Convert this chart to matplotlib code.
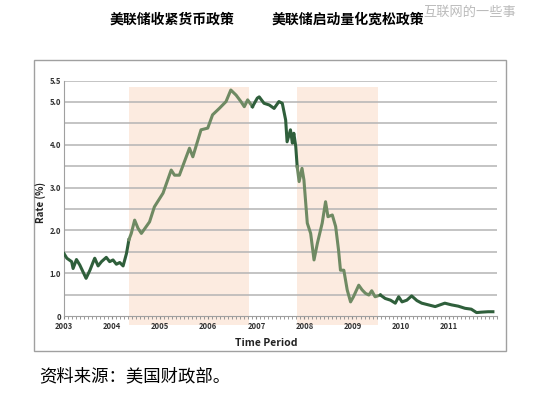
import numpy as np
import matplotlib.pyplot as plt
from matplotlib.patches import Rectangle
from matplotlib.ticker import MultipleLocator

plt.rcParams['font.family'] = ['Noto Sans CJK SC', 'DejaVu Sans']

# ---------------- data ----------------
years = [2003.00, 2003.06, 2003.16, 2003.19, 2003.26, 2003.33, 2003.46, 2003.54,
         2003.61, 2003.64, 2003.71, 2003.78, 2003.88, 2003.95, 2004.02, 2004.09,
         2004.16, 2004.23, 2004.30, 2004.35, 2004.40, 2004.47, 2004.54, 2004.61,
         2004.78, 2004.88, 2005.06, 2005.23, 2005.30, 2005.40, 2005.61, 2005.68,
         2005.85, 2005.99, 2006.09, 2006.23, 2006.37, 2006.47, 2006.58, 2006.68,
         2006.75, 2006.82, 2006.92, 2007.02, 2007.06, 2007.16, 2007.27, 2007.37,
         2007.47, 2007.54, 2007.61, 2007.64, 2007.71, 2007.75, 2007.78, 2007.82,
         2007.85, 2007.89, 2007.95, 2007.99, 2008.06, 2008.13, 2008.20, 2008.27,
         2008.37, 2008.44, 2008.49, 2008.58, 2008.65, 2008.71, 2008.75, 2008.82,
         2008.89, 2008.96, 2009.02, 2009.13, 2009.20, 2009.27, 2009.34, 2009.40,
         2009.47, 2009.58, 2009.68, 2009.79, 2009.89, 2009.96, 2010.03, 2010.13,
         2010.23, 2010.34, 2010.44, 2010.58, 2010.72, 2010.82, 2010.92, 2011.06,
         2011.20, 2011.34, 2011.47, 2011.58, 2011.68, 2011.82, 2011.92]
rates = [1.46, 1.35, 1.27, 1.11, 1.32, 1.19, 0.88, 1.07,
         1.27, 1.35, 1.17, 1.27, 1.37, 1.27, 1.31, 1.21,
         1.25, 1.17, 1.46, 1.78, 1.93, 2.24, 2.05, 1.93,
         2.20, 2.55, 2.87, 3.41, 3.29, 3.29, 3.92, 3.72,
         4.35, 4.39, 4.70, 4.85, 5.01, 5.28, 5.16, 5.01,
         4.89, 5.05, 4.89, 5.09, 5.12, 4.97, 4.93, 4.85,
         5.01, 4.97, 4.58, 4.07, 4.35, 4.04, 4.27, 3.96,
         3.49, 3.14, 3.45, 3.18, 2.17, 1.93, 1.31, 1.70,
         2.17, 2.67, 2.32, 2.36, 2.09, 1.54, 1.07, 1.07,
         0.61, 0.33, 0.45, 0.72, 0.61, 0.53, 0.49, 0.59,
         0.45, 0.49, 0.41, 0.37, 0.30, 0.45, 0.33, 0.37,
         0.47, 0.36, 0.30, 0.26, 0.22, 0.26, 0.30, 0.26,
         0.23, 0.18, 0.16, 0.08, 0.09, 0.10, 0.10]

spans = [(2004.35, 2006.84), (2007.84, 2009.53)]
span_labels = ['美联储收紧货币政策', '美联储启动量化宽松政策']

xtick_years = list(range(2003, 2012))
ytick_vals = [0, 1.0, 2.0, 3.0, 4.0, 5.0, 5.5]
ytick_text = ['0', '1.0', '2.0', '3.0', '4.0', '5.0', '5.5']

dark = '#2f5f3b'
light = '#6f8a63'
shade = '#fcebe0'

fig = plt.figure(figsize=(5.33, 3.97), dpi=100)

# outer frame
fig.patches.append(Rectangle((0.064, 0.116), 0.885, 0.733, transform=fig.transFigure,
                             fill=False, edgecolor='#a0a0a0', lw=1.0))

ax = fig.add_axes([0.120, 0.204, 0.812, 0.593])
ax.set_xlim(2003, 2012)
ax.set_ylim(0, 5.5)

for a, b in spans:
    ax.fill_between([a, b], -0.22, 5.35, color=shade, lw=0, zorder=0, clip_on=False)

for yv in np.arange(0.5, 5.51, 0.5):
    ax.axhline(yv, color='#b4b4b4', lw=1.1, zorder=1)

# line coloured by period
x = np.array(years)
y = np.array(rates)
inside = np.zeros(len(x), dtype=bool)
for a, b in spans:
    inside |= (x >= a) & (x <= b)
start = 0
for i in range(1, len(x) + 1):
    if i == len(x) or inside[i] != inside[start]:
        end = min(i + 1, len(x))
        ax.plot(x[start:end], y[start:end], color=light if inside[start] else dark,
                lw=2.2, zorder=3, solid_joinstyle='round')
        start = i

for s in ['top', 'right']:
    ax.spines[s].set_visible(False)
ax.spines['left'].set_color('#a0a0a0')
ax.spines['bottom'].set_color('#a0a0a0')
ax.spines['bottom'].set_zorder(4)

ax.set_xticks(xtick_years)
ax.set_xticklabels([str(v) for v in xtick_years])
ax.xaxis.set_minor_locator(MultipleLocator(1 / 12))
ax.tick_params(axis='x', which='both', length=2, color='#888888', pad=2,
               labelsize=5.5, labelcolor='#333333')
ax.set_yticks(ytick_vals)
ax.set_yticklabels(ytick_text)
ax.tick_params(axis='y', length=0, pad=2, labelsize=5.5, labelcolor='#333333')
for t in ax.get_xticklabels() + ax.get_yticklabels():
    t.set_fontweight('bold')

fig.text(0.077, 0.49, 'Rate (%)', rotation=90, ha='center', va='center',
         fontsize=7, fontweight='bold', color='#222222')
fig.text(0.50, 0.136, 'Time Period', ha='center', va='center',
         fontsize=7.5, fontweight='bold', color='#222222')

fig.text(172 / 533, 1 - 20 / 397, span_labels[0], ha='center', va='center',
         fontsize=10, fontweight='bold')
fig.text(348 / 533, 1 - 20 / 397, span_labels[1], ha='center', va='center',
         fontsize=10, fontweight='bold')
fig.text(516 / 533, 1 - 12 / 397, '互联网的一些事', ha='right', va='center',
         fontsize=9.5, color='#bbbbbb')
fig.text(39 / 533, 1 - 376 / 397, '资料来源：美国财政部。', ha='left', va='center',
         fontsize=12.5)

fig.savefig('out.png', dpi=100)
